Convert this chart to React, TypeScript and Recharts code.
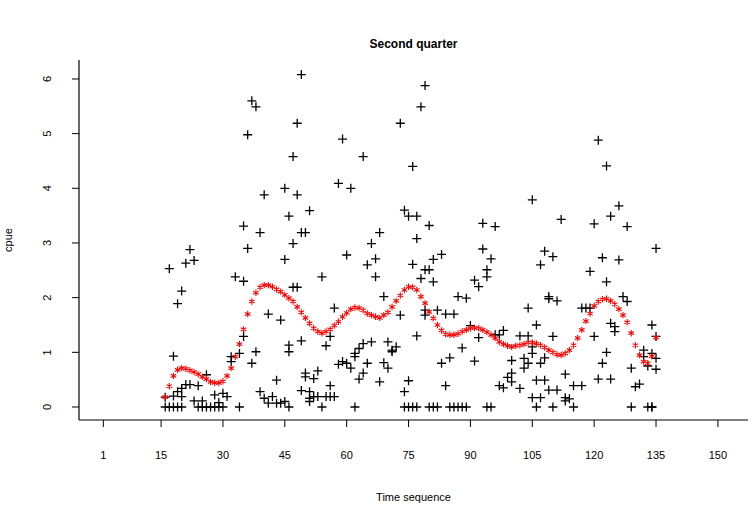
import { ScatterChart, Scatter, XAxis, YAxis, Label } from 'recharts';

const FONT = '"Liberation Sans", Arial, sans-serif';

const dayTicks = [1, 15, 30, 45, 60, 75, 90, 105, 120, 135, 150];
const cpueTicks = [0, 1, 2, 3, 4, 5, 6];

// observed catches (day, cpue), kept in the same order
const catchDay = [
  16, 16, 17, 17, 18, 18, 18, 19, 19, 19, 20, 20, 20, 20, 21, 21, 22, 22, 23, 23,
  24, 24, 25, 25, 26, 26, 27, 28, 28, 29, 29, 30, 30, 31, 32, 32, 33, 34, 34,
  35, 35, 35, 36, 36, 37, 37, 38, 38, 39, 39, 40, 40, 41, 41, 42, 43, 43, 44, 44,
  45, 45, 45, 46, 46, 46, 46, 47, 47, 47, 48, 48, 48, 49, 49, 49, 49, 50, 50, 50,
  51, 51, 51, 51, 52, 52, 53, 53, 54, 54, 55, 55, 56, 56, 56, 57, 57, 58, 58, 59, 59,
  60, 60, 61, 61, 62, 62, 62, 63, 63, 64, 64, 64, 65, 65, 66, 66, 67, 67, 68, 68,
  69, 69, 70, 70, 71, 71, 72, 73, 73, 74, 74, 74, 75, 75, 75, 76, 76, 76,
  77, 77, 77, 77, 78, 78, 79, 79, 79, 79, 80, 80, 80, 81, 81, 81, 82, 82, 83, 83,
  84, 84, 85, 85, 86, 86, 87, 87, 88, 88, 89, 89, 90, 91, 91, 92, 92, 93, 93,
  94, 94, 94, 95, 95, 96, 96, 97, 97, 98, 98, 99, 100, 100, 100, 102, 102, 103, 103,
  104, 104, 104, 105, 105, 105, 105, 106, 106, 106, 107, 107, 107, 108, 108, 108,
  109, 109, 109, 110, 110, 110, 111, 111, 112, 113, 113, 113, 114, 115, 115,
  117, 117, 118, 119, 119, 120, 120, 121, 121, 122, 122, 123, 123, 123, 124, 124, 124,
  125, 125, 126, 126, 127, 128, 128, 129, 129, 130, 131, 132, 132, 133, 133,
  134, 134, 134, 134, 135, 135, 135, 135,
];
const catchCpue = [
  0, 0.18, 0, 2.53, 0, 0.93, 0.2, 0, 1.89, 0.28, 0, 2.12, 0.34, 0.19, 2.63, 0.41, 2.88, 0.41, 2.68, 0.11,
  0.39, 0, 0.11, 0, 0.59, 0, 0, 0.22, 0, 0.08, 0, 0.25, 0, 0.19, 0.92, 0.83, 2.38, 0.98, 0,
  3.31, 2.3, 1.29, 2.9, 4.98, 5.6, 0.8, 5.49, 1.01, 3.19, 0.28, 3.88, 0.16, 1.7, 0.07, 0.19, 0.49, 0.07, 1.59, 0.07,
  4.0, 2.7, 0.1, 3.49, 1.13, 1.01, 0, 4.58, 2.99, 2.19, 5.19, 3.88, 2.19, 6.08, 3.19, 1.21, 0.3, 3.19, 0.62, 0.55,
  3.59, 0.28, 0.16, 0.1, 0.52, 0.19, 0.66, 0.19, 2.38, 0, 1.12, 0.19, 1.29, 0.39, 0.19, 1.81, 0.19, 4.09, 0.78, 4.9, 0.83,
  2.78, 0.8, 4.0, 0.71, 0.98, 0.92, 0, 1.07, 0.51, 4.58, 1.16, 0.62, 2.6, 0.8, 2.99, 1.19, 2.71, 2.38, 3.19, 0.46,
  2.02, 0.81, 1.19, 0.71, 1.04, 1.01, 1.1, 5.19, 1.68, 3.6, 0.28, 0, 3.49, 0.48, 0, 4.4, 2.61, 0,
  3.49, 3.08, 1.3, 0, 5.49, 2.35, 5.88, 2.51, 1.77, 1.68, 3.32, 2.51, 0, 2.7, 2.29, 0, 1.77, 0, 2.79, 0.8,
  1.7, 0.39, 0.9, 0, 1.7, 0, 2.02, 0, 1.08, 0, 1.99, 0, 1.49, 2.32, 0.84, 2.2, 1.27, 3.36, 2.89,
  2.51, 2.38, 0, 2.71, 0, 3.3, 1.32, 1.32, 0.39, 1.4, 0.35, 0.54, 0.85, 0.62, 0.46, 1.3, 0.34, 0.89, 0.71,
  1.81, 1.3, 0.8, 3.79, 1.1, 0.98, 0.17, 1.5, 0.49, 0, 2.6, 0.8, 0.17, 2.85, 0.9, 0.49,
  2.02, 1.98, 0.31, 2.75, 1.29, 0, 1.94, 0.31, 3.43, 0.6, 0.17, 0.11, 0.15, 0.39, 0,
  1.81, 0.39, 1.81, 2.48, 1.81, 3.35, 1.29, 4.88, 0.51, 2.73, 0.8, 4.41, 2.29, 1.0, 3.49, 1.53, 0.51,
  1.47, 1.38, 3.68, 2.69, 2.02, 3.3, 1.93, 0.71, 0, 0.37, 0.42, 1.04, 0.92, 0.75, 0,
  1.5, 0.98, 0, 0, 2.9, 1.29, 0.89, 0.69,
];

// smoothed trend, one value per day from day 16 to day 135
const trendFirstDay = 16;
const trendCpue = [
  0.18, 0.38, 0.57, 0.68, 0.71, 0.7, 0.67, 0.64, 0.6, 0.55, 0.51, 0.46, 0.44, 0.44, 0.47,
  0.57, 0.71, 0.92, 1.15, 1.42, 1.7, 1.93, 2.09, 2.19, 2.23, 2.23, 2.2, 2.15, 2.11, 2.05,
  1.99, 1.93, 1.83, 1.73, 1.63, 1.53, 1.44, 1.38, 1.35, 1.38, 1.42, 1.49, 1.56, 1.65, 1.72,
  1.79, 1.82, 1.81, 1.77, 1.71, 1.68, 1.65, 1.63, 1.68, 1.73, 1.83, 1.94, 2.04, 2.14, 2.2,
  2.19, 2.14, 2.02, 1.9, 1.74, 1.62, 1.5, 1.4, 1.33, 1.32, 1.32, 1.34, 1.38, 1.41, 1.44,
  1.45, 1.44, 1.41, 1.37, 1.32, 1.26, 1.19, 1.15, 1.12, 1.1, 1.12, 1.13, 1.15, 1.18, 1.18,
  1.16, 1.13, 1.09, 1.04, 1.0, 0.96, 0.95, 0.98, 1.04, 1.13, 1.26, 1.41, 1.57, 1.71, 1.85,
  1.93, 1.97, 1.98, 1.94, 1.88, 1.79, 1.68, 1.55, 1.35, 1.13, 0.95, 0.83, 0.8, 0.93, 1.27,
];

const catches = catchDay.map((d, i) => ({ day: d, cpue: catchCpue[i] }));
const trend = trendCpue.map((v, i) => ({ day: trendFirstDay + i, cpue: v }));

const PlusMark = (props: any) => {
  const { cx, cy } = props;
  return (
    <path
      d={`M${cx - 4.5},${cy}h9M${cx},${cy - 4.5}v9`}
      stroke="#000"
      strokeWidth={1.3}
      fill="none"
    />
  );
};

const StarMark = (props: any) => {
  const { cx, cy } = props;
  const r = 3.2;
  const dx = r * 0.866;
  const dy = r * 0.5;
  return (
    <path
      d={`M${cx},${cy - r}V${cy + r}M${cx - dx},${cy - dy}L${cx + dx},${cy + dy}M${cx - dx},${cy + dy}L${cx + dx},${cy - dy}`}
      stroke="#ff0000"
      strokeWidth={1.1}
      fill="none"
    />
  );
};

const XTick = (props: any) => {
  const { x, y, payload } = props;
  return (
    <text x={x} y={y} dy="0.71em" textAnchor="middle" fontSize={11} fontFamily={FONT} fill="#000">
      {payload.value}
    </text>
  );
};

const YTick = (props: any) => {
  const { x, y, payload } = props;
  return (
    <text
      x={x}
      y={y}
      dy="0.35em"
      textAnchor="middle"
      transform={`rotate(-90, ${x}, ${y})`}
      fontSize={11}
      fontFamily={FONT}
      fill="#000"
    >
      {payload.value}
    </text>
  );
};

export default function App() {
  return (
    <div style={{ position: 'absolute', left: 0, top: 0, width: 753, height: 508, background: '#fff' }}>
      <div
        style={{
          position: 'absolute',
          left: 79,
          width: 669,
          top: 36,
          lineHeight: '16px',
          textAlign: 'center',
          fontFamily: FONT,
          fontWeight: 'bold',
          fontSize: 12,
          color: '#000',
        }}
      >
        Second quarter
      </div>
      <ScatterChart width={753} height={508} margin={{ top: 60, right: 5, bottom: 28, left: 19 }}>
        <XAxis
          type="number"
          dataKey="day"
          domain={[-4.9, 157.3]}
          ticks={dayTicks}
          interval={0}
          allowDataOverflow
          height={60}
          tickSize={7}
          tickMargin={24}
          axisLine={{ stroke: '#000', strokeWidth: 1.2 }}
          tickLine={{ stroke: '#000' }}
          tick={XTick}
        >
          <Label
            content={(p: any) => (
              <text
                x={p.viewBox.x + p.viewBox.width / 2}
                y={p.viewBox.y + 81}
                textAnchor="middle"
                fontSize={11}
                fontFamily={FONT}
                fill="#000"
              >
                Time sequence
              </text>
            )}
          />
        </XAxis>
        <YAxis
          type="number"
          dataKey="cpue"
          domain={[-0.238, 6.347]}
          ticks={cpueTicks}
          interval={0}
          allowDataOverflow
          width={60}
          tickSize={7}
          tickMargin={25}
          axisLine={{ stroke: '#000', strokeWidth: 1.2 }}
          tickLine={{ stroke: '#000' }}
          tick={YTick}
        >
          <Label
            content={(p: any) => (
              <text
                x={8}
                y={p.viewBox.y + p.viewBox.height / 2}
                dy="0.35em"
                textAnchor="middle"
                transform={`rotate(-90, 8, ${p.viewBox.y + p.viewBox.height / 2})`}
                fontSize={11}
                fontFamily={FONT}
                fill="#000"
              >
                cpue
              </text>
            )}
          />
        </YAxis>
        <Scatter data={catches} shape={PlusMark} isAnimationActive={false} />
        <Scatter data={trend} shape={StarMark} isAnimationActive={false} />
      </ScatterChart>
    </div>
  );
}
